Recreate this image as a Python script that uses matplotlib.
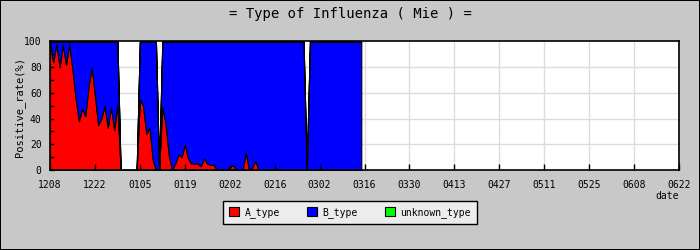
import numpy as np
import matplotlib
matplotlib.use("Agg")
import matplotlib.pyplot as plt
from matplotlib.patches import Patch

# ---- data ----
tick_labels = ["1208", "1222", "0105", "0119", "0202", "0216", "0302", "0316",
               "0330", "0413", "0427", "0511", "0525", "0608", "0622"]
days = list(range(98))  # days since 12/08

a_type = [100, 84, 98, 80, 97, 82, 98, 78, 56, 38, 48, 42, 65, 80, 58, 35, 40, 50, 33, 49, 31, 51,
          0, 0, 0, 0, 0, 0,
          55, 50, 28, 33, 8, 0,
          0,
          49, 36, 12, 0, 5, 12, 10, 20, 9, 5, 5, 5, 3, 9, 5, 4, 4, 0, 0, 0, 0, 2, 4, 0, 0, 0, 14, 0, 2, 7, 0,
          0, 0, 0, 0, 0, 0, 0, 0, 0, 0, 0, 0, 0, 0,
          0,
          0, 0, 0, 0, 0, 0, 0, 0, 0, 0, 0, 0, 0, 0, 0, 0, 0]
b_type = [0, 16, 2, 20, 3, 18, 2, 22, 44, 62, 52, 58, 35, 20, 42, 65, 60, 50, 67, 51, 69, 49,
          0, 0, 0, 0, 0, 0,
          45, 50, 72, 67, 92, 100,
          0,
          51, 64, 88, 100, 95, 88, 90, 80, 91, 95, 95, 95, 97, 91, 95, 96, 96, 100, 100, 100, 100, 98, 96, 100, 100, 100, 86, 100, 98, 93, 100,
          100, 100, 100, 100, 100, 100, 100, 100, 100, 100, 100, 100, 100, 100,
          0,
          100, 100, 100, 100, 100, 100, 100, 100, 100, 100, 100, 100, 100, 100, 100, 100, 100]
unknown_type = [0] * 98

series_names = ["A_type", "B_type", "unknown_type"]
series_colors = ["#ff0000", "#0000ff", "#00ff00"]

MONO = "DejaVu Sans Mono"
BG = "#c8c8c8"
GRID = "#dcdcdc"

fig = plt.figure(figsize=(7, 2.5), dpi=100, facecolor=BG)
fig.patch.set_edgecolor("black")
fig.patch.set_linewidth(1.2)

ax = fig.add_axes([50 / 700, 80 / 250, 629 / 700, 128.5 / 250])
ax.set_facecolor("white")

tick_pos = np.arange(len(tick_labels)) * 14
for x in tick_pos:
    ax.axvline(x, color=GRID, lw=1, zorder=0)
for y in [20, 40, 60, 80]:
    ax.axhline(y, color=GRID, lw=1, zorder=0)

ax.stackplot(days, a_type, b_type, unknown_type, colors=series_colors,
             edgecolor="black", linewidth=0.8, zorder=1)

ax.set_xlim(0, 196)
ax.set_ylim(0, 100)
ax.set_xticks(tick_pos)
ax.set_xticklabels(tick_labels, fontfamily=MONO, fontsize=7)
ax.set_yticks(np.arange(0, 101, 20))
ax.set_yticklabels([str(v) for v in range(0, 101, 20)], fontfamily=MONO, fontsize=7)
ax.set_yticks(np.arange(10, 100, 20), minor=True)
ax.tick_params(axis="x", direction="in", length=4, width=1, pad=7, colors="black")
ax.tick_params(axis="y", which="both", direction="in", length=3, width=1, pad=6, colors="black")
ax.xaxis.set_zorder(3)
ax.yaxis.set_zorder(3)
for s in ax.spines.values():
    s.set_linewidth(1.2)
    s.set_zorder(4)

fig.text(0.5, 1 - 14 / 250, "= Type of Influenza ( Mie ) =", ha="center", va="center",
         fontfamily=MONO, fontsize=10)
fig.text(20 / 700, 1 - 107 / 250, "Positive_rate(%)", rotation=90, ha="center", va="center",
         fontfamily=MONO, fontsize=7.5)
fig.text(667 / 700, 1 - 196 / 250, "date", ha="center", va="center",
         fontfamily=MONO, fontsize=7)

handles = [Patch(facecolor=c, edgecolor="black", linewidth=0.8) for c in series_colors]
leg = fig.legend(handles, series_names, loc="center", bbox_to_anchor=(0.5, 1 - 212.5 / 250),
                 ncol=3, frameon=True, fancybox=False, shadow=False, framealpha=1,
                 facecolor="#ececec", edgecolor="black", prop={"family": MONO, "size": 7},
                 handlelength=1.0, handleheight=1.0, handletextpad=0.6, columnspacing=2.8,
                 borderpad=0.6)
leg.get_frame().set_linewidth(1.0)

fig.savefig("out.png", dpi=100, facecolor=fig.get_facecolor(), edgecolor=fig.get_edgecolor())
